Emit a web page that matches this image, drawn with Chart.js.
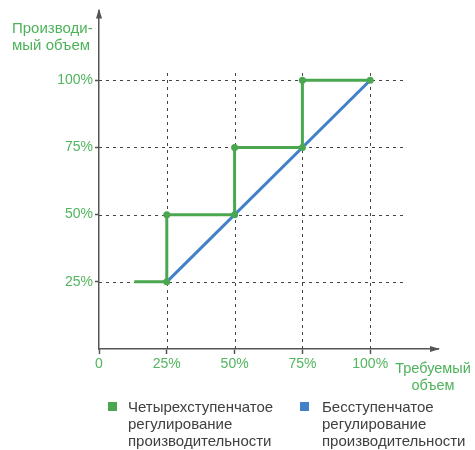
<!DOCTYPE html>
<html>
<head>
<meta charset="utf-8">
<script src="https://cdn.jsdelivr.net/npm/chart.js@4.4.1/dist/chart.umd.min.js"></script>
<style>
  body { margin: 0; background: #fff; }
  #wrap { position: relative; width: 475px; height: 450px; font-family: "Liberation Sans", Arial, sans-serif; }
  #wrap canvas { position: absolute; left: 0; top: 0; }
  .axis-title { position: absolute; color: #4db35a; font-size: 15px; line-height: 17px; }
  .legend-item { position: absolute; color: #404040; font-size: 15px; line-height: 17px; }
  .legend-box { position: absolute; width: 9px; height: 9px; }
</style>
</head>
<body>
<div id="wrap">
  <canvas id="chart" width="475" height="450"></canvas>
  <div class="axis-title" id="y-title" style="left:12px; top:19px;"></div>
  <div class="axis-title" id="x-title" style="left:390px; top:360px; text-align:center; width:86px; font-size:14.5px;"></div>
  <div class="legend-box" id="box-0" style="left:108px; top:402px;"></div>
  <div class="legend-item" id="leg-0" style="left:128px; top:398px;"></div>
  <div class="legend-box" id="box-1" style="left:300px; top:402px;"></div>
  <div class="legend-item" id="leg-1" style="left:322px; top:398px;"></div>
</div>
<script>
// step vs. stepless capacity control

const X_TICKS = [0, 25, 50, 75, 100];
const X_TICK_LABELS = ["0", "25%", "50%", "75%", "100%"];
const Y_TICKS = [25, 50, 75, 100];
const Y_TICK_LABELS = ["25%", "50%", "75%", "100%"];

// four-step control (required vs produced, %)
const STEP_X = [13, 25, 25, 50, 50, 75, 75, 100];
const STEP_Y = [25, 25, 50, 50, 75, 75, 100, 100];
// stepless control
const LINEAR_X = [25, 100];
const LINEAR_Y = [25, 100];

const SERIES_NAMES = [
  ["Четырехступенчатое", "регулирование", "производительности"],
  ["Бесступенчатое", "регулирование", "производительности"],
];
const Y_TITLE = ["Производи-", "мый объем"];
const X_TITLE = ["Требуемый", "объем"];

const GREEN = "#4ba650";
const BLUE = "#4280c8";
const TEXT_GREEN = "#52b55e";
const AXIS = "#555555";

function toPoints(xs, ys) {
  return xs.map((x, i) => ({ x: x, y: ys[i] }));
}

// dashed guide lines that stop a bit past 100%
const guideLines = {
  id: "guideLines",
  beforeDatasetsDraw(chart) {
    const xs = chart.scales.x;
    const ys = chart.scales.y;
    const ctx = chart.ctx;
    ctx.save();
    ctx.strokeStyle = "#444";
    ctx.lineWidth = 1;
    ctx.setLineDash([3, 4]);
    Y_TICKS.forEach((v) => {
      const py = Math.round(ys.getPixelForValue(v)) + 0.5;
      ctx.beginPath();
      ctx.moveTo(xs.getPixelForValue(0), py);
      ctx.lineTo(xs.getPixelForValue(113), py);
      ctx.stroke();
    });
    X_TICKS.slice(1).forEach((v) => {
      const px = Math.round(xs.getPixelForValue(v)) + 0.5;
      ctx.beginPath();
      ctx.moveTo(px, ys.getPixelForValue(0));
      ctx.lineTo(px, ys.getPixelForValue(103.5));
      ctx.stroke();
    });
    ctx.restore();
  },
};

// arrow heads on both axes
const axisArrows = {
  id: "axisArrows",
  afterDraw(chart) {
    const a = chart.chartArea;
    const ctx = chart.ctx;
    ctx.save();
    ctx.fillStyle = AXIS;
    ctx.beginPath();
    ctx.moveTo(a.left, a.top - 2);
    ctx.lineTo(a.left - 3, a.top + 8);
    ctx.lineTo(a.left + 3, a.top + 8);
    ctx.closePath();
    ctx.fill();
    ctx.beginPath();
    ctx.moveTo(a.right + 2, a.bottom);
    ctx.lineTo(a.right - 8, a.bottom - 3);
    ctx.lineTo(a.right - 8, a.bottom + 3);
    ctx.closePath();
    ctx.fill();
    ctx.restore();
  },
};

new Chart(document.getElementById("chart").getContext("2d"), {
  type: "scatter",
  data: {
    datasets: [
      {
        label: SERIES_NAMES[0].join(" "),
        data: toPoints(STEP_X, STEP_Y),
        showLine: true,
        borderColor: GREEN,
        backgroundColor: GREEN,
        borderWidth: 3,
        pointRadius: STEP_X.map((x, i) => (i === 0 ? 0 : 3.5)),
        pointBorderWidth: 0,
      },
      {
        label: SERIES_NAMES[1].join(" "),
        data: toPoints(LINEAR_X, LINEAR_Y),
        showLine: true,
        borderColor: BLUE,
        backgroundColor: BLUE,
        borderWidth: 3,
        pointRadius: 0,
      },
    ],
  },
  options: {
    responsive: false,
    animation: false,
    layout: { padding: { left: 0, right: 37, top: 10, bottom: 0 } },
    plugins: { legend: { display: false }, tooltip: { enabled: false } },
    scales: {
      x: {
        type: "linear",
        min: 0,
        max: 125,
        afterFit: (s) => { s.height = 101; },
        afterBuildTicks: (s) => { s.ticks = X_TICKS.map((v) => ({ value: v })); },
        grid: { drawOnChartArea: false, drawTicks: true, tickLength: 5, tickColor: AXIS, tickWidth: 1.5 },
        border: { display: true, color: AXIS, width: 1.5 },
        ticks: {
          autoSkip: false,
          maxRotation: 0,
          padding: 2,
          color: TEXT_GREEN,
          font: { family: "'Liberation Sans', Arial, sans-serif", size: 14 },
          callback: (v) => X_TICK_LABELS[X_TICKS.indexOf(v)],
        },
      },
      y: {
        type: "linear",
        min: 0,
        max: 126,
        afterFit: (s) => { s.width = 99; },
        afterBuildTicks: (s) => { s.ticks = Y_TICKS.map((v) => ({ value: v })); },
        grid: { drawOnChartArea: false, drawTicks: true, tickLength: 4, tickColor: AXIS, tickWidth: 1.5 },
        border: { display: true, color: AXIS, width: 1.5 },
        ticks: {
          autoSkip: false,
          padding: 2,
          color: TEXT_GREEN,
          font: { family: "'Liberation Sans', Arial, sans-serif", size: 14 },
          callback: (v) => Y_TICK_LABELS[Y_TICKS.indexOf(v)],
        },
      },
    },
  },
  plugins: [guideLines, axisArrows],
});

document.getElementById("y-title").innerHTML = Y_TITLE.join("<br>");
document.getElementById("x-title").innerHTML = X_TITLE.join("<br>");
[GREEN, BLUE].forEach((c, i) => {
  document.getElementById("box-" + i).style.background = c;
  document.getElementById("leg-" + i).innerHTML = SERIES_NAMES[i].join("<br>");
});
</script>
</body>
</html>
